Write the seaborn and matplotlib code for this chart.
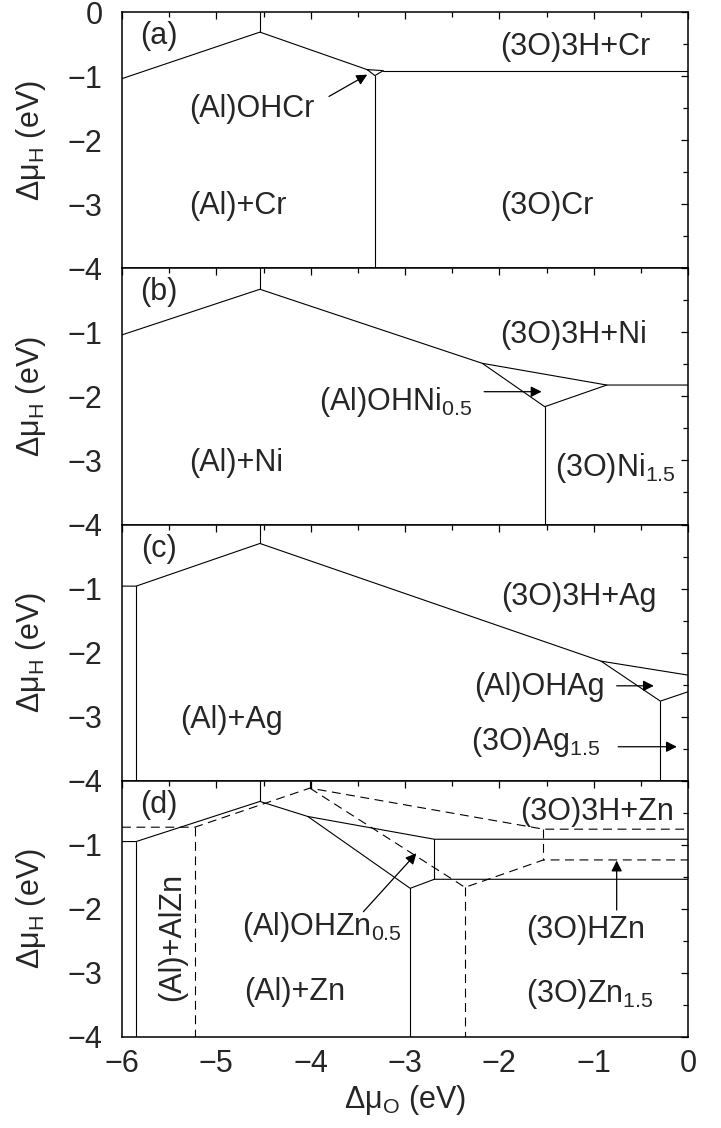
import matplotlib
matplotlib.use('Agg')
import pandas as pd
import seaborn as sns
import matplotlib.pyplot as plt
from matplotlib.ticker import MultipleLocator

# phase boundaries, one list of polylines per panel (x = dmu_O, y = dmu_H, eV)
cr_lines = [
    [(-6.0, -1.04), (-4.538, -0.314), (-3.40, -0.90)],
    [(-4.538, -0.314), (-4.538, 0.0)],
    [(-3.40, -0.90), (-3.23, -0.915), (-3.319, -0.993), (-3.40, -0.90)],
    [(-3.23, -0.915), (0.0, -0.915)],
    [(-3.319, -0.993), (-3.319, -4.0)],
]
ni_lines = [
    [(-6.0, -1.04), (-4.538, -0.328), (-2.181, -1.484), (-0.861, -1.823), (0.0, -1.823)],
    [(-4.538, -0.328), (-4.538, 0.0)],
    [(-2.181, -1.484), (-1.519, -2.161), (-0.861, -1.823)],
    [(-1.519, -2.161), (-1.519, -4.0)],
]
ag_lines = [
    [(-6.0, -0.962), (-5.85, -0.962), (-4.538, -0.296), (-0.922, -2.133), (0.0, -2.351)],
    [(-5.85, -0.962), (-5.85, -4.0)],
    [(-4.538, -0.296), (-4.538, 0.0)],
    [(-0.922, -2.133), (-0.293, -2.757), (0.0, -2.611)],
    [(-0.293, -2.757), (-0.293, -4.0)],
]
zn_lines = [
    [(-6.0, -0.949), (-5.85, -0.949), (-4.538, -0.323), (-4.03, -0.558), (-2.689, -0.913), (0.0, -0.913)],
    [(-5.85, -0.949), (-5.85, -4.0)],
    [(-4.538, -0.323), (-4.538, 0.0)],
    [(-4.03, -0.558), (-2.945, -1.679), (-2.689, -1.538), (0.0, -1.538)],
    [(-2.689, -0.913), (-2.689, -1.538)],
    [(-2.945, -1.679), (-2.945, -4.0)],
]
zn_dashed = [
    [(-6.0, -0.725), (-5.228, -0.725), (-4.009, -0.115), (-1.532, -0.756), (0.0, -0.756)],
    [(-5.228, -0.725), (-5.228, -4.0)],
    [(-4.009, -0.115), (-4.009, 0.0)],
    [(-4.009, -0.115), (-2.364, -1.664), (-1.532, -1.236), (0.0, -1.236)],
    [(-1.532, -0.756), (-1.532, -1.236)],
    [(-2.364, -1.664), (-2.364, -4.0)],
]

# region labels (text, x, baseline y)
cr_labels = [('(3O)3H+Cr', -1.19, -0.665), ('(Al)OHCr', -4.62, -1.64),
             ('(Al)+Cr', -4.77, -3.15), ('(3O)Cr', -1.50, -3.15)]
ni_labels = [('(3O)3H+Ni', -1.21, -1.16), ('(Al)OHNi$_{0.5}$', -3.10, -2.22),
             ('(Al)+Ni', -4.79, -3.16), ('(3O)Ni$_{1.5}$', -0.77, -3.25)]
ag_labels = [('(3O)3H+Ag', -1.16, -1.26), ('(Al)OHAg', -1.58, -2.66),
             ('(Al)+Ag', -4.84, -3.18), ('(3O)Ag$_{1.5}$', -1.61, -3.52)]
zn_labels = [('(3O)3H+Zn', -0.96, -0.62), ('(Al)OHZn$_{0.5}$', -3.88, -2.41),
             ('(Al)+Zn', -4.17, -3.43), ('(3O)HZn', -1.08, -2.46),
             ('(3O)Zn$_{1.5}$', -1.04, -3.45)]

# arrows (tail, head)
cr_arrows = [((-3.806, -1.318), (-3.40, -0.978))]
ni_arrows = [((-2.161, -1.927), (-1.552, -1.927))]
ag_arrows = [((-0.756, -2.518), (-0.362, -2.518)), ((-0.74, -3.469), (-0.118, -3.469))]
zn_arrows = [((-3.441, -2.044), (-2.879, -1.132)), ((-0.756, -2.018), (-0.756, -1.246))]

panel_tags = ['(a)', '(b)', '(c)', '(d)']


def to_frame(lines):
    rows = []
    for i, line in enumerate(lines):
        for x, y in line:
            rows.append({'seg': i, 'x': x, 'y': y})
    return pd.DataFrame(rows)


sns.set_theme(style='white')
plt.rcParams['font.family'] = ['Liberation Sans', 'DejaVu Sans']
plt.rcParams['mathtext.fontset'] = 'custom'
plt.rcParams['mathtext.rm'] = 'Liberation Sans'
plt.rcParams['mathtext.default'] = 'regular'

FS = 22
fig, axes = plt.subplots(4, 1, figsize=(7.21, 11.28), dpi=100, sharex=True)
fig.subplots_adjust(left=122 / 721, right=688 / 721, top=1 - 12 / 1128,
                    bottom=1 - 1037 / 1128, hspace=0)

panels = [
    (cr_lines, None, cr_labels, cr_arrows),
    (ni_lines, None, ni_labels, ni_arrows),
    (ag_lines, None, ag_labels, ag_arrows),
    (zn_lines, zn_dashed, zn_labels, zn_arrows),
]

for i, (ax, (solid, dashed, labels, arrows)) in enumerate(zip(axes, panels)):
    sns.lineplot(data=to_frame(solid), x='x', y='y', units='seg', estimator=None,
                 sort=False, color='black', lw=0.8, ax=ax, legend=False)
    if dashed is not None:
        sns.lineplot(data=to_frame(dashed), x='x', y='y', units='seg', estimator=None,
                     sort=False, color='black', lw=0.8, linestyle=(0, (8, 5)),
                     ax=ax, legend=False)

    for txt, x, y in labels:
        ax.text(x, y, txt, ha='center', va='baseline', fontsize=FS)
    for (x0, y0), (x1, y1) in arrows:
        ax.annotate('', xy=(x1, y1), xytext=(x0, y0),
                    arrowprops=dict(arrowstyle='-|>', color='black', lw=0.9,
                                    mutation_scale=16, shrinkA=0, shrinkB=0))
    ax.text(-5.61, -0.50, panel_tags[i], ha='center', va='baseline', fontsize=FS)

    ax.set_xlim(-6, 0)
    ax.set_ylim(-4, 0)
    ax.set_yticks([-4, -3, -2, -1, 0])
    ylabs = ['\u22124', '\u22123', '\u22122', '\u22121', '0' if i == 0 else '']
    ax.set_yticklabels(ylabs)
    ax.xaxis.set_minor_locator(MultipleLocator(0.5))
    ax.yaxis.set_minor_locator(MultipleLocator(0.5))
    ax.tick_params(which='both', direction='in', top=True, right=True,
                   color='black', width=0.9, labelsize=FS)
    ax.tick_params(which='major', length=5)
    ax.tick_params(which='minor', length=3.5)
    ax.tick_params(axis='y', pad=14)
    ax.tick_params(axis='x', pad=9)
    for sp in ax.spines.values():
        sp.set_linewidth(1.1)
        sp.set_color('black')
    ax.set_ylabel('\u0394\u03bc$_\\mathrm{H}$ (eV)', fontsize=FS)
    ax.yaxis.set_label_coords(-0.13, 0.5)
    ax.set_xlabel('')

# rotated label for the narrow Al+AlZn region
axes[3].text(-5.47, -2.435, '(Al)+AlZn', rotation=90, ha='center', va='center', fontsize=FS)

axes[3].set_xticks([-6, -5, -4, -3, -2, -1, 0])
axes[3].set_xticklabels(['\u22126', '\u22125', '\u22124', '\u22123', '\u22122', '\u22121', '0'])
axes[3].set_xlabel('\u0394\u03bc$_\\mathrm{O}$ (eV)', fontsize=FS)
axes[3].xaxis.set_label_coords(0.5, -0.18)
axes[3].xaxis.label.set_va('top')

fig.savefig('out.png', dpi=100)
